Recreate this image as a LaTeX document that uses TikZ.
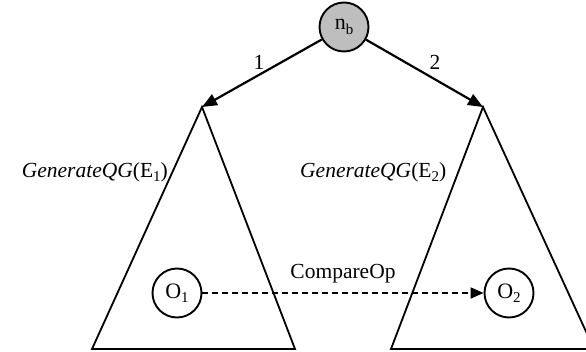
\documentclass[tikz,border=0pt]{standalone}
\usepackage{fontspec}
\setmainfont{Liberation Serif}
\usetikzlibrary{arrows.meta}
\newcommand{\lowsub}[1]{\raisebox{-0.45ex}{\fontsize{15}{17}\selectfont #1}}
\begin{document}
\begin{tikzpicture}[x=1pt,y=-1pt,
  lbl/.style={font=\fontsize{21.5}{25}\selectfont, inner sep=0pt},
  circ/.style={draw, circle, line width=1.9pt, minimum size=49pt, inner sep=0pt, font=\fontsize{22}{26}\selectfont},
  tri/.style={draw, line width=1.8pt, line join=miter},
  arr/.style={line width=2.2pt, -{Triangle[length=15pt,width=12pt]}},
  darr/.style={line width=1.9pt, dash pattern=on 6pt off 4pt, -{Triangle[length=13pt,width=11pt]}}
]
\useasboundingbox (0,0) rectangle (586,352);
\clip (0,0) rectangle (586,352);
% triangles
\coordinate (t1) at (202,107);
\coordinate (t2) at (483,107);
\draw[tri] (t1) -- (92,349) -- (295,349) -- cycle;
\draw[tri] (t2) -- (391,349) -- (594,349) -- cycle;
% root
\node[circ, fill={rgb,255:red,190;green,190;blue,190}] (nb) at (344,27) {n\lowsub{b}};
\draw[arr] (nb) -- (t1);
\draw[arr] (nb) -- (t2);
\node[lbl] (l1) at (259,62) {1};
\node[lbl] (l2) at (435,62) {2};
% function labels
\node[lbl, anchor=east] (g1) at (168,172) {\textit{GenerateQG}(E\lowsub{1})};
\node[lbl, anchor=west] (g2) at (300,172) {\textit{GenerateQG}(E\lowsub{2})};
% O nodes
\node[circ, fill=white] (o1) at (177,293) {O\lowsub{1}};
\node[circ, fill=white] (o2) at (509,293) {O\lowsub{2}};
\draw[darr] (o1) -- node[lbl, above=9pt] (cmp) {CompareOp} (o2);
\end{tikzpicture}
\end{document}
